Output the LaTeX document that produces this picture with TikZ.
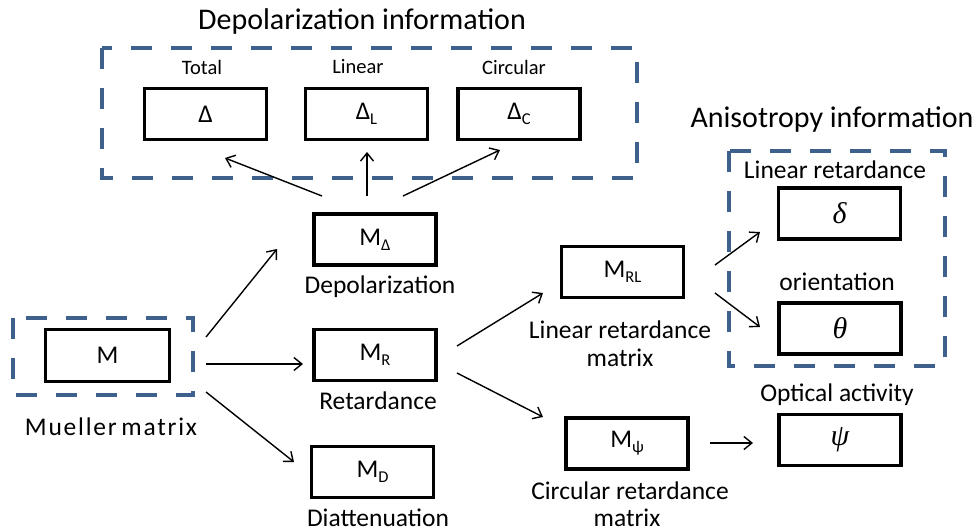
\documentclass[tikz,border=0pt]{standalone}
\usepackage{fontspec}
\setmainfont{Carlito}
\newfontfamily\grkfont{Liberation Serif}
\usetikzlibrary{arrows.meta}
\definecolor{dashblue}{RGB}{62,96,140}
\newcommand\sbs[1]{\raisebox{-5pt}{\fontsize{16.5}{16}\selectfont #1}}
\newcommand\grk[1]{{\grkfont\itshape\fontsize{30}{30}\selectfont #1}}
\tikzset{
  bx/.style={draw, line width=3.2pt, minimum width=122pt, minimum height=51pt, inner sep=0pt, font=\fontsize{25.5}{30}\selectfont},
  grp/.style={draw=dashblue, line width=3.4pt, dash pattern=on 21pt off 19pt},
  lbl/.style={inner sep=0pt, font=\fontsize{25.5}{28}\selectfont, align=center},
  bl/.style={inner sep=0pt, font=\fontsize{25.5}{28}\selectfont, anchor=base},
  sml/.style={inner sep=0pt, font=\fontsize{20.5}{24}\selectfont},
  ttl/.style={inner sep=0pt, font=\fontsize{30}{34}\selectfont},
  arr/.style={line width=1.4pt, -{Straight Barb[length=8pt,width=13pt,line width=1.4pt]}}
}
\begin{document}
\begin{tikzpicture}[x=1pt,y=-1pt]
\useasboundingbox (0,0) rectangle (978,532);
% group frames
\draw[grp] (102,48) rectangle (637,178);
\draw[grp] (13,318) rectangle (193,395);
\draw[grp] (729,151) rectangle (945,366);
% titles
\node[ttl] (t1) at (362,22) {Depolarization information};
\node[ttl] (t2) at (832,120) {Anisotropy information};
% depolarization boxes
\node[sml] (ltot) at (202,67) {Total};
\node[sml] (llin) at (358,67) {Linear};
\node[sml] (lcir) at (514,67) {Circular};
\node[bx] (tot) at (205.5,114) {Δ};
\node[bx] (lin) at (366.5,114) {Δ\sbs{L}};
\node[bx] (cir) at (519,114) {Δ\sbs{C}};
% main boxes
\node[bx, minimum width=124pt, minimum height=52pt] (M) at (107.5,355.5) {M};
\node[lbl] (lM) at (111,427) {\addfontfeature{LetterSpace=7}Mueller\hspace{-3pt} matrix};
\node[bx] (MD1) at (375,239.5) {M\sbs{Δ}};
\node[lbl] (lMD1) at (380,287) {Depolarization};
\node[bx] (MR) at (375,355) {M\sbs{R}};
\node[lbl] (lMR) at (378,401) {Retardance};
\node[bx] (MDD) at (372.5,472) {M\sbs{D}};
\node[bl] (lMDD) at (378,526) {Diattenuation};
\node[bx] (MRL) at (622.5,272) {M\sbs{RL}};
\node[lbl] (lMRL) at (620,344) {Linear retardance\\matrix};
\node[bx] (Mpsi) at (627,443.5) {M\sbs{ψ}};
\node[bl] (lMpsi) at (630,499) {Circular retardance};
\node[bl] (lMpsi2) at (627,526) {matrix};
% anisotropy boxes
\node[lbl] (ldel) at (835,170) {Linear retardance};
\node[bx] (del) at (839.5,213.5) {\grk{δ}};
\node[lbl] (lth) at (837,282) {orientation};
\node[bx] (th) at (840,328.5) {\grk{θ}};
\node[lbl] (lpsi) at (837,395) {Optical activity};
\node[bx] (psi) at (840,440) {\grk{ψ}};
% connector end points
\coordinate (a1s) at (206,337); \coordinate (a1e) at (277,249);
\coordinate (a2s) at (206,364); \coordinate (a2e) at (303,364);
\coordinate (a3s) at (206,392); \coordinate (a3e) at (294,462);
\coordinate (a4s) at (457,346); \coordinate (a4e) at (543,293);
\coordinate (a5s) at (457,373); \coordinate (a5e) at (543,417);
\coordinate (a6s) at (322,196); \coordinate (a6e) at (225,158);
\coordinate (a7s) at (367,196); \coordinate (a7e) at (367,152);
\coordinate (a8s) at (403,196); \coordinate (a8e) at (500,150);
\coordinate (a9s) at (715,265); \coordinate (a9e) at (760,232);
\coordinate (a10s) at (715,293); \coordinate (a10e) at (760,327);
\coordinate (a11s) at (710,443); \coordinate (a11e) at (753,443);
\foreach \i in {1,...,11} \draw[arr] (a\i s) -- (a\i e);
\end{tikzpicture}
\end{document}
